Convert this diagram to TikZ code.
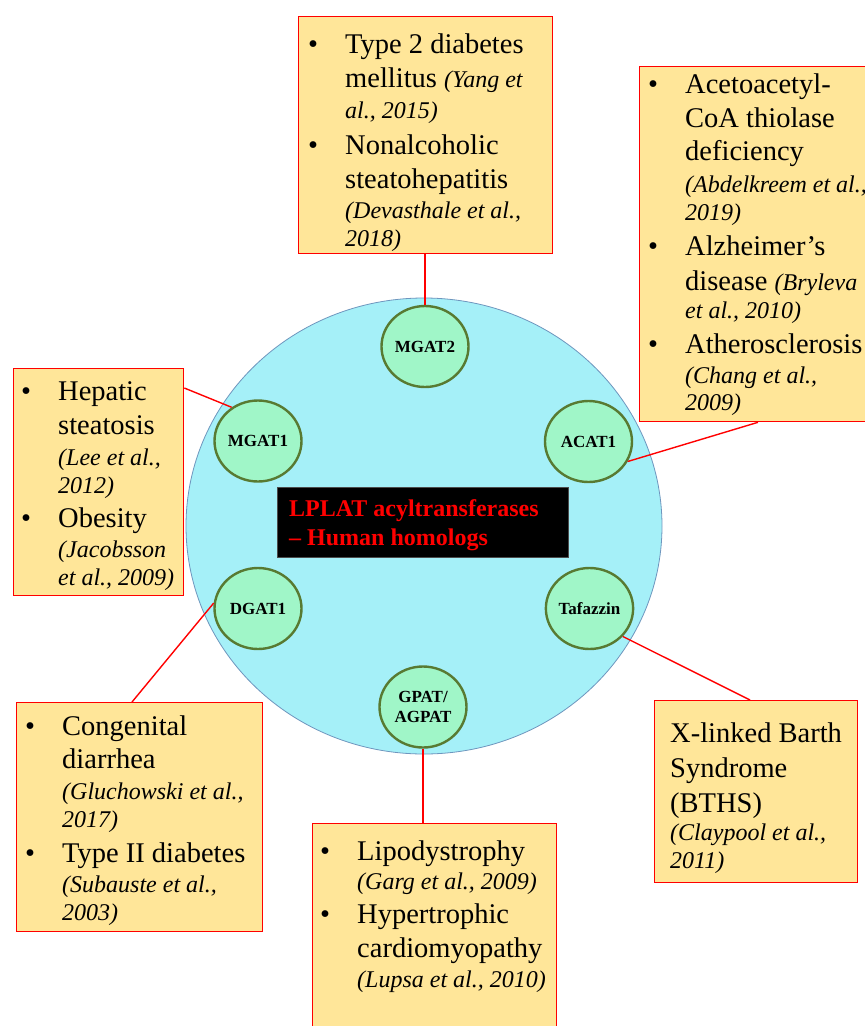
\documentclass[tikz,border=0pt]{standalone}
\usepackage{fontspec}
\setmainfont{Liberation Serif}
\usetikzlibrary{shapes.geometric}
\definecolor{boxfill}{RGB}{255,230,153}
\definecolor{bigfill}{RGB}{165,240,248}
\definecolor{bigdraw}{RGB}{110,150,190}
\definecolor{nodefill}{RGB}{160,246,200}
\definecolor{nodedraw}{RGB}{88,122,50}
\newcommand\ML[2][34]{{\fontsize{28.5}{#1}\selectfont #2\par}}
\newcommand\IL[2][28]{{\fontsize{24}{#1}\selectfont\itshape #2\par}}
\newcommand\bul{\leavevmode\llap{\textbullet\hspace{27pt}}}
\newcommand\ci[1]{{\fontsize{24}{28}\selectfont\itshape #1}}
\begin{document}
\begin{tikzpicture}[x=1pt,y=-1pt,
  bigc/.style={ellipse, draw=bigdraw, fill=bigfill, line width=0.8pt, minimum width=476pt, minimum height=456pt, inner sep=0pt},
  enz/.style={ellipse, draw=nodedraw, fill=nodefill, line width=2.4pt, minimum width=87pt, minimum height=81pt, inner sep=0pt, font=\fontsize{17}{20}\selectfont\bfseries, align=center},
  dbox/.style={rectangle, draw=red, fill=boxfill, line width=1.3pt, inner sep=0pt, anchor=north west},
  txt/.style={anchor=base west, inner sep=0pt},
  link/.style={draw=red, line width=1.4pt}]
\useasboundingbox[fill=white] (0,0) rectangle (865,1026);

% central circle
\node[bigc] (big) at (424,526) {};
\node[fill=black, draw=black!70, line width=0.6pt, minimum width=291pt, minimum height=70pt, inner sep=0pt] (lb) at (422.5,522) {};
\node[txt, text=red, font=\fontsize{24}{29}\selectfont\bfseries] (lt) at (289,516) {\parbox[t]{280pt}{LPLAT acyltransferases\\– Human homologs}};

% enzymes
\node[enz] (m2) at (425,346.5) {MGAT2};
\node[enz] (m1) at (258,441) {MGAT1};
\node[enz] (a1) at (588.5,441.5) {ACAT1};
\node[enz] (d1) at (258,608.5) {DGAT1};
\node[enz] (t1) at (589.5,608.5) {Tafazzin};
\node[enz] (g1) at (423,707) {GPAT/\\AGPAT};

% boxes
\node[dbox, minimum width=254pt, minimum height=237pt] (b2) at (298,16) {};
\node[dbox, minimum width=235pt, minimum height=355pt] (ba) at (639,66) {};
\node[dbox, minimum width=170pt, minimum height=227pt] (b1) at (13,368) {};
\node[dbox, minimum width=246pt, minimum height=229pt] (bd) at (16,702) {};
\node[dbox, minimum width=244pt, minimum height=210pt] (bg) at (312,823) {};
\node[dbox, minimum width=203pt, minimum height=182pt] (bt) at (654,700) {};

% connectors
\draw[link] (m2.north) -- (m2.north |- b2.south);
\draw[link] (m1.128) -- ([yshift=-20pt]b1.north east);
\draw[link] (a1.-27) -- ([xshift=119pt]ba.south west);
\draw[link] (d1.173) -- ([xshift=116pt]bd.north west);
\draw[link] (t1.-40) -- ([xshift=96pt]bt.north west);
\draw[link] (g1.south) -- (g1.south |- bg.north);

% texts
\node[txt] (tx2) at (345,53) {\parbox[t]{400pt}{%
\ML{\bul Type 2 diabetes}
\ML{mellitus \ci{(Yang et}}
\IL[31]{al., 2015)}
\ML[36]{\bul Nonalcoholic}
\ML{steatohepatitis}
\IL[30]{(Devasthale et al.,}
\IL{2018)}}};

\node[txt] (txa) at (685,93) {\parbox[t]{400pt}{%
\ML{\bul Acetoacetyl-}
\ML{CoA thiolase}
\ML[33]{deficiency}
\IL[32]{(Abdelkreem et al.,}
\IL{2019)}
\ML[35]{\bul Alzheimer’s}
\ML[35]{disease \ci{(Bryleva}}
\IL{et al., 2010)}
\ML[35]{\bul Atherosclerosis}
\IL[30]{(Chang et al.,}
\IL[27]{2009)}}};

\node[txt] (tx1) at (58,400) {\parbox[t]{400pt}{%
\ML{\bul Hepatic}
\ML{steatosis}
\IL[31]{(Lee et al.,}
\IL{2012)}
\ML{\bul Obesity}
\IL[30]{(Jacobsson}
\IL{et al., 2009)}}};

\node[txt] (txd) at (62,735) {\parbox[t]{400pt}{%
\ML{\bul Congenital}
\ML[33]{diarrhea}
\IL[31]{(Gluchowski et al.,}
\IL{2017)}
\ML[35]{\bul Type II diabetes}
\IL[30]{(Subauste et al.,}
\IL{2003)}}};

\node[txt] (txg) at (357,860) {\parbox[t]{400pt}{%
\ML{\bul Lipodystrophy}
\IL[29]{(Garg et al., 2009)}
\ML{\bul Hypertrophic}
\ML{cardiomyopathy}
\IL[30]{(Lupsa et al., 2010)}}};

\node[txt] (txt) at (670,742) {\parbox[t]{400pt}{%
\ML[35]{X-linked Barth}
\ML[35]{Syndrome}
\ML[35]{(BTHS)}
\IL{(Claypool et al.,}
\IL{2011)}}};
\end{tikzpicture}
\end{document}
